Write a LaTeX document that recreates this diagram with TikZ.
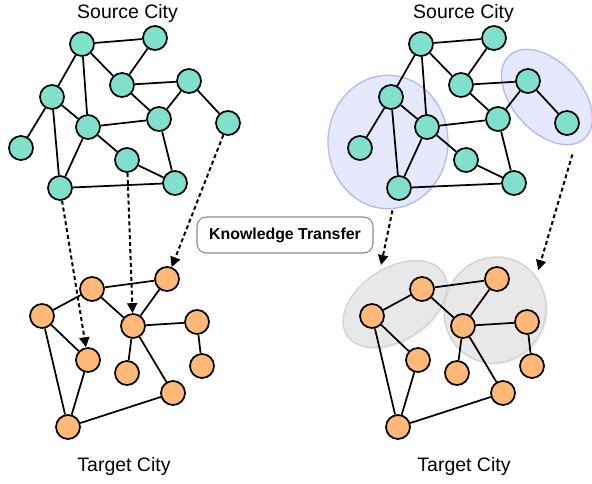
\documentclass[tikz,border=0pt]{standalone}
\usepackage{fontspec}
\setmainfont{Liberation Sans}
\usetikzlibrary{arrows.meta,shapes.geometric,shadows}

\definecolor{srcfill}{RGB}{128,224,204}
\definecolor{tgtfill}{RGB}{255,184,120}
\definecolor{blobblue}{RGB}{230,233,253}
\definecolor{blobblueline}{RGB}{176,188,240}
\definecolor{blobgray}{RGB}{232,232,232}
\definecolor{blobgrayline}{RGB}{210,210,210}

\tikzset{
  srcnode/.style={circle,draw=black,line width=1.3pt,fill=srcfill,minimum size=18pt,inner sep=0pt},
  tgtnode/.style={srcnode,fill=tgtfill},
  road/.style={line width=1.3pt},
  transfer/.style={line width=1.5pt,dash pattern=on 3pt off 2.2pt,-{Triangle[length=7.5pt,width=7.5pt]}},
  blueblob/.style={ellipse,draw=blobblueline,line width=1pt,fill=blobblue,inner sep=0pt},
  grayblob/.style={ellipse,draw=blobgrayline,line width=1pt,fill=blobgray,inner sep=0pt,
    drop shadow={opacity=0.12,shadow xshift=1.5pt,shadow yshift=-1.5pt}},
  cityname/.style={anchor=base,font=\fontsize{14.6}{17}\selectfont},
  kbox/.style={draw=black!45,line width=0.8pt,rounded corners=7pt,minimum width=132pt,
    minimum height=27pt,font=\fontsize{11.9}{14}\selectfont\bfseries}
}

\newcommand{\sourceCity}[2]{%
  \begin{scope}[shift={(#2,0)}]
    \node[srcnode] (#1A) at (82,44) {};
    \node[srcnode] (#1B) at (155,38) {};
    \node[srcnode] (#1C) at (122,85) {};
    \node[srcnode] (#1D) at (189,81) {};
    \node[srcnode] (#1E) at (52,97) {};
    \node[srcnode] (#1F) at (88,127) {};
    \node[srcnode] (#1G) at (159,119) {};
    \node[srcnode] (#1H) at (228,123) {};
    \node[srcnode] (#1I) at (21,148) {};
    \node[srcnode] (#1J) at (127,160) {};
    \node[srcnode] (#1K) at (60,188) {};
    \node[srcnode] (#1L) at (175,183) {};
    \draw[road] (#1A) -- (#1B);
    \draw[road] (#1A) -- (#1C);
    \draw[road] (#1A) -- (#1E);
    \draw[road] (#1A) -- (#1F);
    \draw[road] (#1B) -- (#1C);
    \draw[road] (#1C) -- (#1D);
    \draw[road] (#1C) -- (#1G);
    \draw[road] (#1D) -- (#1G);
    \draw[road] (#1D) -- (#1H);
    \draw[road] (#1E) -- (#1I);
    \draw[road] (#1E) -- (#1F);
    \draw[road] (#1E) -- (#1K);
    \draw[road] (#1F) -- (#1G);
    \draw[road] (#1F) -- (#1J);
    \draw[road] (#1F) -- (#1K);
    \draw[road] (#1J) -- (#1L);
    \draw[road] (#1G) -- (#1L);
    \draw[road] (#1K) -- (#1L);
  \end{scope}}

\newcommand{\targetCity}[2]{%
  \begin{scope}[shift={(#2,0)}]
    \node[tgtnode] (#1a) at (92,289) {};
    \node[tgtnode] (#1b) at (167,279) {};
    \node[tgtnode] (#1c) at (42,316) {};
    \node[tgtnode] (#1d) at (133,326) {};
    \node[tgtnode] (#1e) at (197,322) {};
    \node[tgtnode] (#1f) at (88,360) {};
    \node[tgtnode] (#1g) at (127,373) {};
    \node[tgtnode] (#1h) at (202,366) {};
    \node[tgtnode] (#1i) at (173,393) {};
    \node[tgtnode] (#1j) at (68,427) {};
    \draw[road] (#1a) -- (#1b);
    \draw[road] (#1a) -- (#1c);
    \draw[road] (#1a) -- (#1d);
    \draw[road] (#1b) -- (#1d);
    \draw[road] (#1c) -- (#1f);
    \draw[road] (#1c) -- (#1j);
    \draw[road] (#1f) -- (#1j);
    \draw[road] (#1d) -- (#1e);
    \draw[road] (#1d) -- (#1g);
    \draw[road] (#1d) -- (#1i);
    \draw[road] (#1e) -- (#1h);
    \draw[road] (#1i) -- (#1j);
  \end{scope}}

\begin{document}
\begin{tikzpicture}[x=0.75pt,y=-0.75pt]
  \useasboundingbox (0,0) rectangle (592,483);

  % left: whole cities
  \node[cityname] (srcL) at (127.5,18) {Source City};
  \node[cityname] (tgtL) at (124,471) {Target City};
  \sourceCity{sl}{0}
  \targetCity{tl}{0}

  \draw[transfer] (slK) -- (tlf);
  \draw[transfer] (slJ) -- (tld);
  \draw[transfer] (slH) -- (tlb);

  \node[kbox] (kt) at (285,235) {Knowledge Transfer};

  % right: regions
  \node[blueblob,minimum width=90pt,minimum height=100pt] (blueL) at (388,142) {};
  \node[blueblob,minimum width=84pt,minimum height=52pt,rotate=-48] (blueR) at (547,97) {};
  \node[grayblob,minimum width=86pt,minimum height=54pt,rotate=33] (grayL) at (395,304) {};
  \node[grayblob,minimum width=80pt,minimum height=76pt,rotate=70] (grayR) at (495,310) {};

  \node[cityname] (srcR) at (463.5,18) {Source City};
  \node[cityname] (tgtR) at (464,471) {Target City};
  \sourceCity{sr}{339}
  \targetCity{tr}{330}

  \draw[transfer,shorten <=1pt,shorten >=4pt] (blueL.-86) -- (grayL.81);
  \draw[transfer,shorten <=8pt,shorten >=5pt] (blueR.-11) -- (grayR.-31);
\end{tikzpicture}
\end{document}
